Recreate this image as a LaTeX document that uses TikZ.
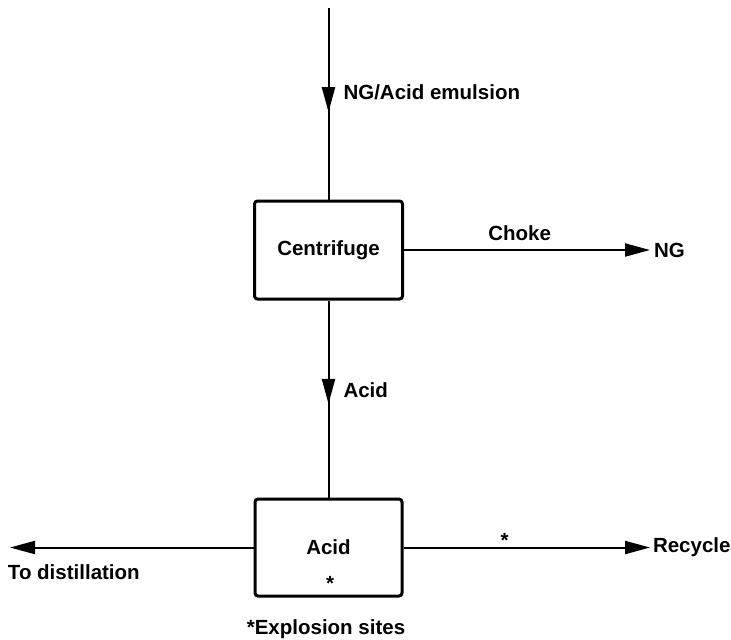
\documentclass[tikz,border=0pt]{standalone}
\usepackage{fontspec}
\setmainfont{Liberation Sans}
\usetikzlibrary{arrows.meta,decorations.markings}

\begin{document}
\begin{tikzpicture}[x=0.5pt,y=-0.5pt,>={Triangle[length=12.5pt,width=6.5pt]},line width=1pt,
    font=\fontsize{10.25}{12}\selectfont\bfseries,
    unit node/.style={draw,line width=1.5pt,rounded corners=1.5pt,minimum width=74pt,minimum height=49pt,inner sep=0pt},
    stream label/.style={inner sep=0pt},
    midarrow/.style={postaction={decorate},decoration={markings,mark=at position #1 with {\arrow{>}}}}]
    \useasboundingbox (0,0) rectangle (731,639);

    \node[unit node] (centrifuge) at (328.5,250) {Centrifuge};
    \node[unit node,minimum width=73.5pt,minimum height=48.5pt] (acid) at (328.5,547.5) {Acid};
    \node[stream label] (innerstar) at (330,583) {*};
    \node[stream label] (note) at (326,629) {*Explosion sites};

    \coordinate (feed) at (328.5,8);
    \coordinate (ngout) at (650,250);
    \coordinate (recycle) at (650,547.5);
    \coordinate (distill) at (10,547.5);

    \draw[midarrow=0.544] (feed) -- node[stream label,pos=0.44,anchor=west,xshift=7pt] {NG/Acid emulsion} (centrifuge);
    \draw[->] (centrifuge) -- node[stream label,pos=0.47,yshift=8.5pt] {Choke}
        node[stream label,at end,anchor=west,xshift=1.5pt] {NG} (ngout);
    \draw[midarrow=0.525] (centrifuge) -- node[stream label,pos=0.455,anchor=west,xshift=7pt] {Acid} (acid);
    \draw[->] (acid) -- node[stream label,pos=0.41,yshift=3.5pt] {*}
        node[stream label,at end,anchor=west,xshift=1pt] {Recycle} (recycle);
    \draw[->] (acid) -- node[stream label,at end,anchor=west,xshift=-1.5pt,yshift=-12.5pt] {To distillation} (distill);
\end{tikzpicture}
\end{document}
